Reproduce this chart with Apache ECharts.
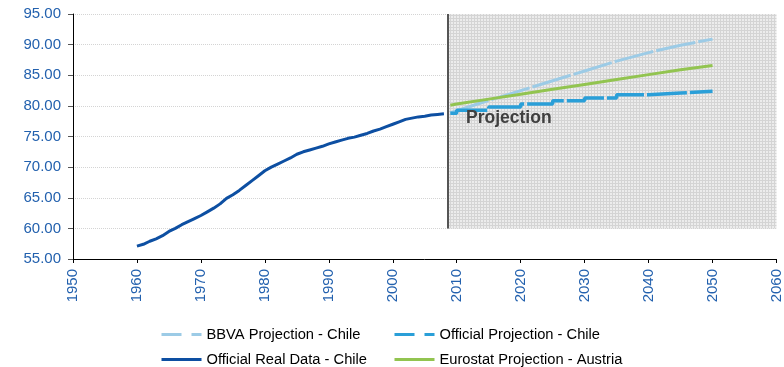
<!DOCTYPE html>
<html>
<head>
<meta charset="utf-8">
<script src="https://cdn.jsdelivr.net/npm/echarts@6/dist/echarts.min.js"></script>
<style>
  html, body { margin: 0; padding: 0; background: #fff; }
  #chart { width: 784px; height: 367px; }
</style>
</head>
<body>
<div id="chart"></div>
<script>
// official real data, Chile (annual)
const realYears = [1960, 1961, 1962, 1963, 1964, 1965, 1966, 1967, 1968, 1969,
  1970, 1971, 1972, 1973, 1974, 1975, 1976, 1977, 1978, 1979,
  1980, 1981, 1982, 1983, 1984, 1985, 1986, 1987, 1988, 1989,
  1990, 1991, 1992, 1993, 1994, 1995, 1996, 1997, 1998, 1999,
  2000, 2001, 2002, 2003, 2004, 2005, 2006, 2007, 2008];
const realLife = [57.1, 57.4, 57.9, 58.3, 58.8, 59.5, 60.0, 60.6, 61.1, 61.6,
  62.1, 62.7, 63.3, 64.0, 64.9, 65.5, 66.2, 67.0, 67.8, 68.6,
  69.4, 70.0, 70.5, 71.0, 71.5, 72.1, 72.5, 72.8, 73.1, 73.4,
  73.8, 74.1, 74.4, 74.7, 74.9, 75.2, 75.5, 75.9, 76.2, 76.6,
  77.0, 77.4, 77.8, 78.0, 78.2, 78.3, 78.5, 78.6, 78.7];

// BBVA projection, Chile
const bbvaYears = [2009, 2010, 2015, 2020, 2025, 2030, 2035, 2040, 2045, 2050];
const bbvaLife = [78.9, 79.2, 80.9, 82.5, 84.1, 85.7, 87.3, 88.7, 89.9, 90.9];

// official projection, Chile (held per period)
const offYears = [2009, 2010, 2015, 2020, 2025, 2030, 2035, 2040, 2045, 2050];
const offLife = [78.8, 79.3, 79.8, 80.3, 80.85, 81.3, 81.8, 82.1, 82.4, 82.4];

// Eurostat projection, Austria
const euroYears = [2009, 2010, 2015, 2020, 2025, 2030, 2035, 2040, 2045, 2050];
const euroLife = [80.1, 80.3, 81.1, 81.9, 82.7, 83.5, 84.3, 85.1, 85.9, 86.6];

const projStart = 2008.6;

function pairs(xs, ys) { return xs.map((x, i) => [x, ys[i]]); }

const pat = document.createElement('canvas');
pat.width = 3; pat.height = 3;
const pc = pat.getContext('2d');
pc.fillStyle = '#ececec'; pc.fillRect(0, 0, 3, 3);
pc.fillStyle = '#d4d4d4'; pc.fillRect(0, 0, 3, 1); pc.fillRect(0, 0, 1, 3);

const blue = '#2361ae';
const font = '"Liberation Sans", Arial, sans-serif';
const legendBase = {
  orient: 'vertical', top: 327, height: 60, padding: 0, itemWidth: 40, itemHeight: 14, itemGap: 10,
  itemStyle: { opacity: 0 },
  textStyle: { color: '#000', fontSize: 14.7, fontFamily: font }
};

const chart = echarts.init(document.getElementById('chart'));
chart.setOption({
  animation: false,
  grid: { left: 73, right: 4, top: 14, bottom: 108 },
  xAxis: {
    type: 'value', min: 1950, max: 2060, interval: 10,
    axisLine: { lineStyle: { color: '#000', width: 1 } },
    axisTick: { length: 4, lineStyle: { color: '#000' } },
    axisLabel: { rotate: 90, margin: 10, color: blue, fontSize: 15, fontFamily: font, formatter: v => String(v) },
    splitLine: { show: false }
  },
  yAxis: {
    type: 'value', min: 55, max: 95, interval: 5,
    axisLine: { show: true, lineStyle: { color: '#000', width: 1 } },
    axisTick: { show: true, length: 5, lineStyle: { color: '#555' } },
    axisLabel: { margin: 12, color: blue, fontSize: 15, fontFamily: font, formatter: v => v.toFixed(2) },
    splitLine: { lineStyle: { color: '#d4d4d4', type: [1, 1] } }
  },
  legend: [
    Object.assign({}, legendBase, {
      left: 160,
      data: [
        { name: 'BBVA Projection - Chile', lineStyle: { type: [20, 10], width: 3 } },
        { name: 'Official Real Data - Chile', lineStyle: { width: 3 } }
      ]
    }),
    Object.assign({}, legendBase, {
      left: 393,
      data: [
        { name: 'Official Projection - Chile', lineStyle: { type: [20, 10], width: 3 } },
        { name: 'Eurostat Projection - Austria', lineStyle: { width: 3 } }
      ]
    })
  ],
  graphic: [{
    type: 'text', x: 466, y: 118, z: 100,
    style: { text: 'Projection', fill: '#404040', font: 'bold 17.5px ' + font, verticalAlign: 'middle', align: 'left' }
  }],
  series: [
    {
      name: 'Official Real Data - Chile', type: 'line', symbol: 'none',
      lineStyle: { color: '#0d4fa2', width: 3 }, itemStyle: { color: '#0d4fa2' },
      data: pairs(realYears, realLife), z: 5,
      markArea: {
        silent: true,
        itemStyle: { color: { image: pat, repeat: 'repeat' } },
        data: [[{ coord: [projStart, 60] }, { coord: [2060, 95] }]]
      },
      markLine: {
        silent: true, symbol: 'none', label: { show: false },
        lineStyle: { color: '#555', width: 2, type: 'solid' },
        data: [[{ coord: [projStart, 60] }, { coord: [projStart, 95] }]]
      }
    },
    {
      name: 'BBVA Projection - Chile', type: 'line', symbol: 'none', z: 3,
      lineStyle: { color: '#9ccbe6', width: 3, type: [40, 3] }, itemStyle: { color: '#9ccbe6' },
      data: pairs(bbvaYears, bbvaLife)
    },
    {
      name: 'Eurostat Projection - Austria', type: 'line', symbol: 'none', z: 4,
      lineStyle: { color: '#92c450', width: 3 }, itemStyle: { color: '#92c450' },
      data: pairs(euroYears, euroLife)
    },
    {
      name: 'Official Projection - Chile', type: 'line', symbol: 'none', step: 'end', z: 6,
      lineStyle: { color: '#2a9fd8', width: 3.5, type: [40, 3] }, itemStyle: { color: '#2a9fd8' },
      data: pairs(offYears, offLife)
    }
  ]
});
</script>
</body>
</html>
